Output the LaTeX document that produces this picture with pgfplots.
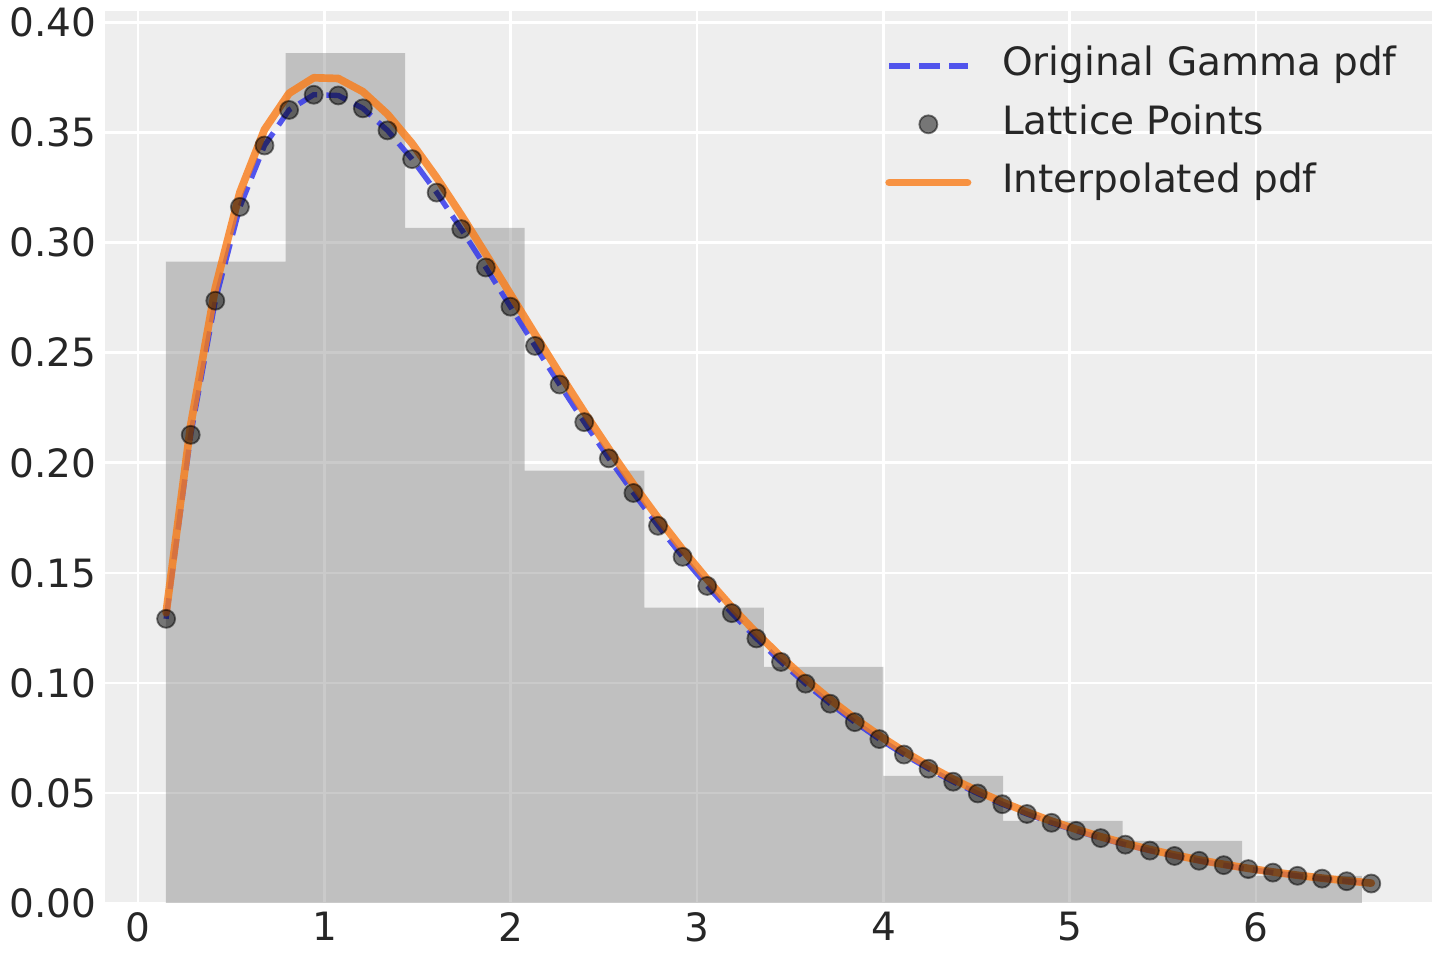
\documentclass[border=0pt]{standalone}
\usepackage{fontspec}
\setmainfont{DejaVu Sans}
\usepackage{pgfplots}
\usepackage{pgfplotstable}
\pgfplotsset{compat=1.18}
\definecolor{cblue}{HTML}{2A2EEC}
\definecolor{corange}{HTML}{FA7C17}
\definecolor{bg}{HTML}{EEEEEE}
\definecolor{txt}{HTML}{262626}

\pgfplotstableread{
x pdf interp
0.150 0.12911 0.13182
0.282 0.21271 0.21717
0.414 0.27365 0.27940
0.546 0.31628 0.32292
0.678 0.34418 0.35140
0.810 0.36034 0.36790
0.942 0.36724 0.37495
1.074 0.36692 0.37463
1.206 0.36107 0.36865
1.338 0.35105 0.35842
1.470 0.33799 0.34509
1.602 0.32279 0.32957
1.734 0.30619 0.31262
1.866 0.28875 0.29481
1.998 0.27094 0.27663
2.130 0.25312 0.25844
2.262 0.23557 0.24052
2.394 0.21849 0.22307
2.526 0.20203 0.20627
2.658 0.18630 0.19021
2.790 0.17137 0.17496
2.922 0.15728 0.16058
3.054 0.14406 0.14708
3.186 0.13170 0.13446
3.318 0.12020 0.12272
3.450 0.10952 0.11182
3.582 0.09965 0.10174
3.714 0.09055 0.09245
3.846 0.08217 0.08390
3.978 0.07448 0.07605
4.110 0.06744 0.06885
4.242 0.06100 0.06228
4.374 0.05511 0.05627
4.506 0.04976 0.05080
4.638 0.04488 0.04582
4.770 0.04045 0.04130
4.902 0.03643 0.03720
5.034 0.03279 0.03347
5.166 0.02948 0.03010
5.298 0.02650 0.02705
5.430 0.02380 0.02430
5.562 0.02136 0.02181
5.694 0.01917 0.01957
5.826 0.01719 0.01755
5.958 0.01540 0.01573
6.090 0.01380 0.01409
6.222 0.01235 0.01261
6.354 0.01106 0.01129
6.486 0.00989 0.01010
6.618 0.00884 0.00903
}\lattice

\pgfplotstableread{
edge height
0.1490 0.2914
0.7908 0.3862
1.4326 0.3067
2.0744 0.1964
2.7162 0.1342
3.3580 0.1073
3.9998 0.0577
4.6416 0.0373
5.2834 0.0282
5.9252 0.0123
6.5670 0.0000
}\hist

\begin{document}
\begin{tikzpicture}
\begin{axis}[
  at={(0,0)}, anchor=south west,
  scale only axis,
  width=398.1pt, height=267.6pt,
  xmin=-0.178, xmax=6.944,
  ymin=0, ymax=0.4053,
  axis background/.style={fill=bg},
  axis line style={draw=none},
  tick style={draw=none},
  major tick length=0pt,
  grid=major,
  major grid style={white, line width=0.8pt},
  xtick={0,1,2,3,4,5,6},
  xticklabels={0,1,2,3,4,5,6},
  ytick={0,0.05,0.10,0.15,0.20,0.25,0.30,0.35,0.40},
  yticklabels={0.00,0.05,0.10,0.15,0.20,0.25,0.30,0.35,0.40},
  tick label style={font=\fontsize{11.7pt}{13pt}\selectfont, text=txt},
  yticklabel style={xshift=1pt},
  xticklabel style={yshift=0.8pt},
  legend style={
    at={(1,1)}, anchor=north east, xshift=-10.6pt, yshift=-11pt,
    draw=none, fill=none, inner sep=0pt, outer sep=0pt,
    font=\fontsize{11.7pt}{13pt}\selectfont, text=txt,
    column sep=9.2pt, row sep=6.5pt,
    nodes={inner sep=0pt, text height=8.5pt, text depth=2.5pt},
  },
  legend cell align=left,
  legend image code/.code={
    \draw[mark repeat=2,mark phase=2,#1] plot coordinates {(0pt,0pt) (11.75pt,0pt) (23.5pt,0pt)};
  },
]
\addplot[ybar interval, fill=gray, fill opacity=0.41, draw=none, forget plot] table[x=edge, y=height] {\hist};
\addplot[cblue, draw opacity=0.8, line width=1.6pt, dash pattern=on 6.2pt off 2.8pt] table[x=x, y=pdf] {\lattice};
\addlegendentry{Original Gamma pdf}
\addplot[only marks, mark=*, mark size=2.7pt, mark options={fill=black, draw=black, line width=0.55pt, fill opacity=0.5, draw opacity=0.5}] table[x=x, y=pdf] {\lattice};
\addlegendentry{Lattice Points}
\addplot[corange, draw opacity=0.8, line width=2.3pt, line cap=round, line join=round] table[x=x, y=interp] {\lattice};
\addlegendentry{Interpolated pdf}
\end{axis}
\pgfresetboundingbox
\path[use as bounding box] (-31.5pt,-17.1pt) rectangle (400.5pt,270.9pt);
\end{tikzpicture}
\end{document}
